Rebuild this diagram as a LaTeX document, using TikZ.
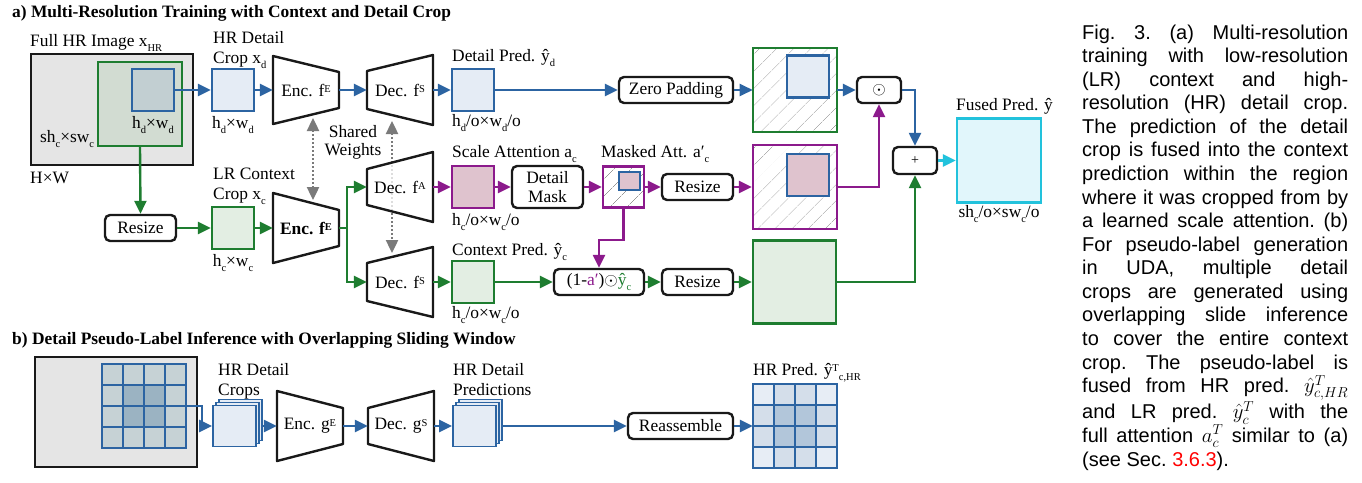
\documentclass[tikz,border=0pt]{standalone}
\usepackage{fontspec}
\setmainfont{Liberation Serif}
\newfontfamily\capfont{Liberation Sans}
\usetikzlibrary{positioning,arrows.meta,patterns.meta}
\definecolor{hrblue}{HTML}{2C64A2}
\definecolor{ctxgreen}{HTML}{1E7D30}
\definecolor{attpurple}{HTML}{8C1A8C}
\definecolor{fusecyan}{HTML}{22C2DC}
\definecolor{bluefill}{HTML}{E5ECF5}
\definecolor{greenfill}{HTML}{E3EEE3}
\definecolor{pinkfill}{HTML}{DFC3CE}
\definecolor{cyanfill}{HTML}{E1F6FB}
\definecolor{imggray}{HTML}{E5E5E5}
\definecolor{cropgray}{HTML}{D2DCD2}
\definecolor{detgray}{HTML}{C2CFD2}
\definecolor{tilelight}{HTML}{C6D2D5}
\definecolor{tiledark}{HTML}{9BB3C2}
\definecolor{predlight}{HTML}{E7EDF5}
\definecolor{predmid}{HTML}{D4DEEA}
\definecolor{preddark}{HTML}{B2C6DA}
\definecolor{sharedgray}{HTML}{7A7A7A}
\newcommand{\lowsub}[1]{\raisebox{-5pt}{\fontsize{10.5}{10}\selectfont#1}}
\newcommand{\highsup}[1]{\raisebox{3.5pt}{\fontsize{10.5}{10}\selectfont#1}}
\newcommand{\trapnode}[7][]{%
  \draw[trap,#1] (#3-33,#4-#5) -- (#3+33,#4-#6) -- (#3+33,#4+#6) -- (#3-33,#4+#5) -- cycle;
  \node[trapbody] (#2) at (#3,#4) {#7};}
\begin{document}
\begin{tikzpicture}[x=1pt, y=-1pt,
  font=\fontsize{17.4}{20}\selectfont,
  lbl/.style={inner sep=0pt},
  title/.style={inner sep=0pt, font=\fontsize{17.4}{20}\selectfont\bfseries},
  trap/.style={draw=black!90, line width=2.4pt, fill=white, line join=round},
  trapbody/.style={minimum width=66pt, minimum height=30pt, inner sep=0pt},
  sq/.style={line width=2.4pt, minimum size=42pt, inner sep=0pt},
  op/.style={draw=black!90, line width=2.4pt, rounded corners=5pt, fill=white, minimum height=26pt, inner sep=2pt},
  hatch/.style={sq, minimum size=84pt, pattern={Lines[angle=45,distance=13pt,line width=0.6pt]}, pattern color=black!40},
  arr/.style={-{Triangle[length=13pt,width=12pt]}, line width=2.4pt},
  barr/.style={arr, draw=hrblue},
  garr/.style={arr, draw=ctxgreen},
  parr/.style={arr, draw=attpurple},
  carr/.style={arr, draw=fusecyan},
  shared/.style={{Triangle[length=13pt,width=12pt]}-{Triangle[length=13pt,width=12pt]}, line width=2.4pt, draw=sharedgray, dash pattern=on 2pt off 2pt},
  tile/.style={draw=hrblue, line width=2.4pt},
  stackbox/.style={draw=hrblue, fill=bluefill, line width=1.8pt},
  caption/.style={inner sep=0pt, text width=266pt, align=justify, font=\capfont\fontsize{20}{23.56}\selectfont\frenchspacing},
]
\path[use as bounding box, fill=white] (0,0) rectangle (1362,482);

\node[title, anchor=base west] (titlea) at (12,17) {a) Multi-Resolution Training with Context and Detail Crop};

\node[sq, draw=black!90, fill=imggray, minimum width=162pt, minimum height=111pt] (img) at (112,109.5) {};
\node[sq, draw=ctxgreen, fill=cropgray, minimum size=84pt] (ctxreg) at (140,104) {};
\node[sq, draw=hrblue, fill=detgray] (detreg) at (153,90) {};
\node[lbl, anchor=base west] (imglbl) at (30,46) {Full HR Image x\lowsub{HR}};
\node[lbl, anchor=base] (detsize) at (153,128) {h\lowsub{d}×w\lowsub{d}};
\node[lbl, anchor=base west] (ctxsize) at (40,142) {sh\lowsub{c}×sw\lowsub{c}};
\node[lbl, anchor=base west] (imgsize) at (30,183) {H×W};

\node[sq, draw=hrblue, fill=bluefill] (xd) at (233,90) {};
\node[lbl, anchor=north west, align=left] (xdlbl) at (213,31) {HR Detail\\Crop x\lowsub{d}};
\node[lbl, anchor=base] (xdsize) at (233,128) {h\lowsub{d}×w\lowsub{d}};
\node[sq, draw=ctxgreen, fill=greenfill] (xc) at (233,228) {};
\node[lbl, anchor=north west, align=left] (xclbl) at (213,168) {LR Context\\Crop x\lowsub{c}};
\node[lbl, anchor=base] (xcsize) at (233,266) {h\lowsub{c}×w\lowsub{c}};
\node[op, minimum width=71pt] (rszlr) at (140.5,228) {Resize};

\trapnode{encd}{306}{90}{34}{18}{Enc. f\highsup{E}}
\trapnode{encc}{306}{228}{35}{18}{\bfseries Enc. f\highsup{\bfseries E}}
\draw[shared] ([shift={(7,28)}]encd.center) -- ([shift={(7,-28)}]encc.center);
\node[lbl, align=center, anchor=north] (sharedlbl) at (353,125) {Shared\\[-2pt]Weights};

\trapnode{decd}{400}{90}{19}{35}{Dec. f\highsup{S}}
\trapnode{decc}{400}{282}{19}{35}{Dec. f\highsup{S}}
\draw[shared] ([shift={(-8,31)}]decd.center) -- ([shift={(-8,-29)}]decc.center);
\trapnode[fill opacity=0.75]{deca}{400}{187}{18}{35}{Dec. f\highsup{A}}

\node[sq, draw=hrblue, fill=bluefill] (ydet) at (473,90) {};
\node[lbl, anchor=base west] (ydetlbl) at (452,61) {Detail Pred. ŷ\lowsub{d}};
\node[lbl, anchor=base west] (ydetsize) at (452,126) {h\lowsub{d}/o×w\lowsub{d}/o};
\node[op, minimum width=114pt] (zpad) at (676,90) {Zero Padding};
\node[hatch, draw=ctxgreen] (ydetpad) at (795,90) {};
\node[sq, draw=hrblue, fill=bluefill] (ydetin) at (808,76.5) {};
\node[op, minimum width=44pt] (mul) at (879,90) {$\odot$};

\node[sq, draw=attpurple, fill=pinkfill] (att) at (473,187) {};
\node[lbl, anchor=base west] (attlbl) at (452,157) {Scale Attention a\lowsub{c}};
\node[lbl, anchor=base west] (attsize) at (452,225) {h\lowsub{c}/o×w\lowsub{c}/o};
\node[op, minimum width=71pt, minimum height=42pt, align=center] (dmask) at (547.5,187) {Detail\\[-1pt]Mask};
\node[hatch, draw=attpurple, minimum size=41pt] (matt) at (623.5,187) {};
\node[sq, draw=hrblue, fill=pinkfill, minimum width=21pt, minimum height=18pt] (mattin) at (629.5,181) {};
\node[lbl, anchor=base west] (mattlbl) at (601,157) {Masked Att. a′\lowsub{c}};
\node[op, minimum width=71pt] (rszatt) at (697.5,187) {Resize};
\node[hatch, draw=attpurple] (attpad) at (795,187) {};
\node[sq, draw=hrblue, fill=pinkfill] (attin) at (808,175) {};

\node[sq, draw=ctxgreen, fill=greenfill] (yctx) at (473,282) {};
\node[lbl, anchor=base west] (yctxlbl) at (452,255) {Context Pred. ŷ\lowsub{c}};
\node[lbl, anchor=base west] (yctxsize) at (452,318) {h\lowsub{c}/o×w\lowsub{c}/o};
\node[op, minimum width=90pt] (inv) at (599,282) {(1-\textcolor{attpurple}{a′})$\odot$\textcolor{ctxgreen}{ŷ\lowsub{c}}};
\node[op, minimum width=71pt] (rszctx) at (697.5,282) {Resize};
\node[sq, draw=ctxgreen, fill=greenfill, minimum size=83pt] (ctxup) at (794.5,282) {};

\node[op, minimum width=44pt, minimum height=27pt, font=\fontsize{14}{14}\selectfont] (add) at (915,160.5) {+};
\node[sq, draw=fusecyan, fill=cyanfill, minimum size=84pt] (fused) at (999,160.5) {};
\node[lbl, anchor=base west] (fusedlbl) at (956,110) {Fused Pred. ŷ};
\node[lbl, anchor=base] (fusedsize) at (999,217) {sh\lowsub{c}/o×sw\lowsub{c}/o};

\draw[barr] (detreg.east) -- (xd.west);
\draw[barr] (xd.east) -- (encd.west);
\draw[barr] (encd.east) -- (decd.west);
\draw[barr] (decd.east) -- (ydet.west);
\draw[barr] (ydet.east) -- (zpad.west);
\draw[barr] (zpad.east) -- (ydetpad.west);
\draw[barr] (ydetpad.east) -- (mul.west);
\draw[barr] (mul.east) -| (add.north);
\draw[garr] (ctxreg.south) -- (rszlr.north);
\draw[garr] (rszlr.east) -- (xc.west);
\draw[garr] (xc.east) -- (encc.west);
\draw[garr] (encc.east) -- ++(8,0) |- (deca.west);
\draw[garr] (encc.east) -- ++(8,0) |- (decc.west);
\draw[parr] (deca.east) -- (att.west);
\draw[parr] (att.east) -- (dmask.west);
\draw[parr] (dmask.east) -- (matt.west);
\draw[parr] (matt.east) -- (rszatt.west);
\draw[parr] (rszatt.east) -- (attpad.west);
\draw[parr] (attpad.east) -| (mul.south);
\draw[parr] (matt.south) -- ++(0,31) -| (inv.north);
\draw[garr] (decc.east) -- (yctx.west);
\draw[garr] (yctx.east) -- (inv.west);
\draw[garr] (inv.east) -- (rszctx.west);
\draw[garr] (rszctx.east) -- (ctxup.west);
\draw[garr] (ctxup.east) -| (add.south);
\draw[carr] (add.east) -- (fused.west);

\node[title, anchor=base west] (titleb) at (12,344) {b) Detail Pseudo-Label Inference with Overlapping Sliding Window};

\node[sq, draw=black!90, fill=imggray, minimum width=162pt, minimum height=110pt] (imgb) at (116,412) {};
\foreach \i in {0,...,3}{\foreach \j in {0,...,3}{
  \pgfmathtruncatemacro\inner{(\i>0)*(\i<3)*(\j>0)*(\j<3)}
  \ifnum\inner=1 \def\cellcol{tiledark}\else\def\cellcol{tilelight}\fi
  \draw[tile, fill=\cellcol] (102+21*\i,364+21*\j) rectangle ++(21,21);}}
\coordinate (tilesout) at (186,406);

\foreach \o in {6,3} \draw[stackbox] (213+\o,405.5-\o) rectangle ++(43,41);
\node[sq, stackbox, minimum width=43pt, minimum height=41pt] (crops) at (234.5,426) {};
\node[lbl, anchor=north west, align=left] (cropslbl) at (218,363) {HR Detail\\Crops};
\trapnode{encg}{310}{426}{35}{18}{Enc. g\highsup{E}}
\trapnode{decg}{401}{426}{18}{35}{Dec. g\highsup{S}}
\foreach \o in {6,3} \draw[stackbox] (453+\o,405.5-\o) rectangle ++(43,41);
\node[sq, stackbox, minimum width=43pt, minimum height=41pt] (preds) at (474.5,426) {};
\node[lbl, anchor=north west, align=left] (predslbl) at (453,363) {HR Detail\\Predictions};
\node[op, minimum width=105pt] (reasm) at (680.5,426) {Reassemble};

\foreach \i in {0,...,3}{\foreach \j in {0,...,3}{
  \pgfmathtruncatemacro\ring{(\i>0)*(\i<3)+(\j>0)*(\j<3)}
  \ifcase\ring \def\cellcol{predlight}\or\def\cellcol{predmid}\else\def\cellcol{preddark}\fi
  \draw[tile, fill=\cellcol] (753+21*\i,384+21*\j) rectangle ++(21,21);}}
\node[minimum size=84pt, inner sep=0pt] (hrpred) at (795,426) {};
\node[lbl, anchor=base west] (hrpredlbl) at (753,375) {HR Pred. ŷ\highsup{T}\lowsub{c,HR}};

\draw[barr] (tilesout) -- ++(16,0) |- (crops.west);
\draw[barr] ([xshift=6pt]crops.east) -- (encg.west);
\draw[barr] (encg.east) -- (decg.west);
\draw[barr] (decg.east) -- (preds.west);
\draw[barr] ([xshift=6pt]preds.east) -- (reasm.west);
\draw[barr] (reasm.east) -- (hrpred.west);

\node[caption, anchor=north west] (cap) at (1082,24.5) {Fig. 3. (a) Multi-resolution\linebreak
training with low-resolution\linebreak
(LR) context and high-\linebreak
resolution (HR) detail crop.\linebreak
The prediction of the detail\linebreak
crop is fused into the context\linebreak
prediction within the region\linebreak
where it was cropped from by\linebreak
a learned scale attention. (b)\linebreak
For pseudo-label generation\linebreak
in UDA, multiple detail\linebreak
crops are generated using\linebreak
overlapping slide inference\linebreak
to cover the entire context\linebreak
crop. The pseudo-label is\linebreak
fused from HR pred. $\hat{y}^T_{c,HR}$\linebreak
and LR pred. $\hat{y}^T_c$ with the\linebreak
full attention $a^T_c$ similar to (a)\linebreak
(see Sec. \textcolor{red}{3.6.3}).};
\end{tikzpicture}
\end{document}
